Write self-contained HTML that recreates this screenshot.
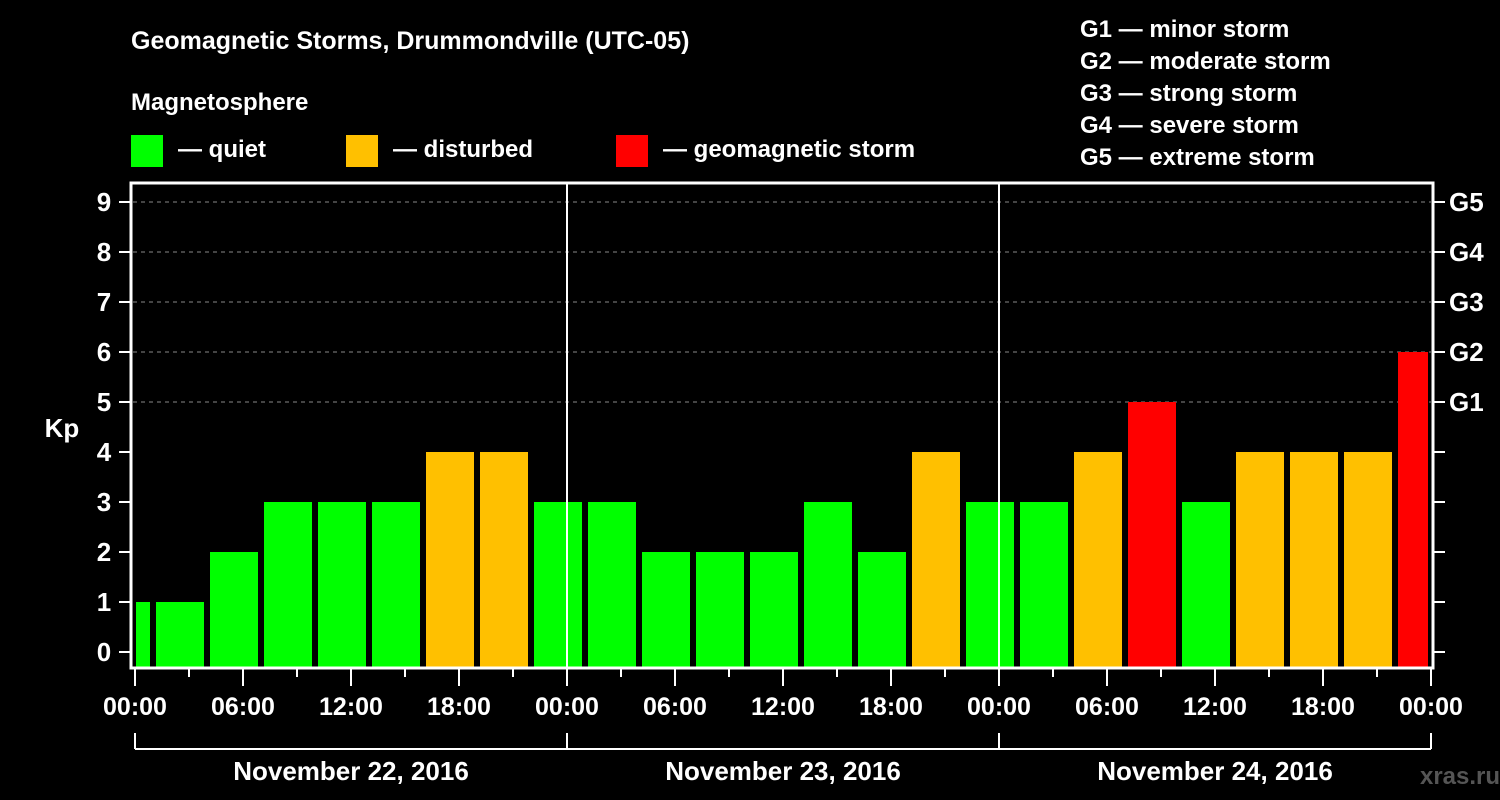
<!DOCTYPE html>
<html><head><meta charset="utf-8"><style>
html,body{margin:0;padding:0;background:#000;}
svg{display:block;font-family:"Liberation Sans",sans-serif;font-weight:bold;}
</style></head><body>
<svg width="1500" height="800" viewBox="0 0 1500 800">
<rect width="1500" height="800" fill="#000"/>
<text x="131" y="49" fill="#fff" font-size="25">Geomagnetic Storms, Drummondville (UTC-05)</text>
<text x="131" y="110" fill="#fff" font-size="24">Magnetosphere</text>
<g><rect x="131" y="135" width="32" height="32" fill="#00ff00"/><text x="178" y="157" fill="#fff" font-size="24">— quiet</text></g>
<g><rect x="346" y="135" width="32" height="32" fill="#ffc000"/><text x="393" y="157" fill="#fff" font-size="24">— disturbed</text></g>
<g><rect x="616" y="135" width="32" height="32" fill="#ff0000"/><text x="663" y="157" fill="#fff" font-size="24">— geomagnetic storm</text></g>
<g fill="#fff" font-size="24">
<text x="1080" y="37">G1 — minor storm</text>
<text x="1080" y="69">G2 — moderate storm</text>
<text x="1080" y="101">G3 — strong storm</text>
<text x="1080" y="133">G4 — severe storm</text>
<text x="1080" y="165">G5 — extreme storm</text>
</g>
<text x="62" y="437" fill="#fff" font-size="26" text-anchor="middle">Kp</text>
<text x="1460" y="784" fill="#555" font-size="24" text-anchor="middle">xras.ru</text>
<g id="grid"></g>
<g id="bars"></g>
<g id="axes"></g>
</svg>
<script>
const kpValues = [1,1,2,3,3,3,4,4,3,3,2,2,2,3,2,4,3,3,4,5,3,4,4,4,6];
const firstSlotHour = -2;
const slotHours = 3;
const dayLabels = ["November 22, 2016","November 23, 2016","November 24, 2016"];
const xTickLabels = ["00:00","06:00","12:00","18:00","00:00","06:00","12:00","18:00","00:00","06:00","12:00","18:00","00:00"];
const gLabels = ["G1","G2","G3","G4","G5"];

const NS="http://www.w3.org/2000/svg";
const L=131,R=1433,T=183,B=668;
const x0=135,pxH=18;
const xs=h=>x0+h*pxH;
const ys=v=>652-v*50;
function mk(tag,attrs,parent,text){const e=document.createElementNS(NS,tag);for(const k in attrs)e.setAttribute(k,attrs[k]);if(text!=null)e.textContent=text;parent.appendChild(e);return e;}
const grid=document.getElementById('grid'),bars=document.getElementById('bars'),axes=document.getElementById('axes');

for(let v=5;v<=9;v++){
  const l=mk('line',{x1:L+2,x2:R-2,y1:ys(v),y2:ys(v),stroke:'#888','stroke-dasharray':'4,4','stroke-width':1},grid);
  
  
}
kpValues.forEach((v,i)=>{
  let a=xs(firstSlotHour+i*slotHours)+3, b=xs(firstSlotHour+(i+1)*slotHours)-3;
  a=Math.max(a,L+5); b=Math.min(b,R-5);
  const c=v>=5?'#ff0000':(v>=4?'#ffc000':'#00ff00');
  const r=mk('rect',{x:a,y:ys(v),width:b-a,height:B-ys(v),fill:c},bars);
  
  
});
for(let d=1;d<3;d++){
  const l=mk('line',{x1:xs(d*24),x2:xs(d*24),y1:T,y2:B,stroke:'#fff','stroke-width':2},axes);
  
  
}
const fr=mk('rect',{x:L,y:T,width:R-L,height:B-T,fill:'none',stroke:'#fff','stroke-width':3},axes);


for(let v=0;v<=9;v++){
  mk('line',{x1:L-12,x2:L,y1:ys(v),y2:ys(v),stroke:'#fff','stroke-width':2},axes);
  mk('line',{x1:R,x2:R+12,y1:ys(v),y2:ys(v),stroke:'#fff','stroke-width':2},axes);
  const t=mk('text',{x:104,y:ys(v)+9,fill:'#fff','font-size':26,'text-anchor':'middle'},axes,String(v));
  
  
}
gLabels.forEach((g,i)=>{
  const t=mk('text',{x:1449,y:ys(5+i)+9,fill:'#fff','font-size':26},axes,g);
  
  
});
for(let h=0;h<=72;h+=3){
  const major=h%6===0;
  mk('line',{x1:xs(h),x2:xs(h),y1:B,y2:major?686:677,stroke:'#fff','stroke-width':2},axes);
}
xTickLabels.forEach((s,i)=>{
  const t=mk('text',{x:xs(i*6),y:715,fill:'#fff','font-size':25,'text-anchor':'middle'},axes,s);
  
  
});
mk('line',{x1:xs(0),x2:xs(72),y1:749,y2:749,stroke:'#fff','stroke-width':2},axes);
for(let d=0;d<=3;d++) mk('line',{x1:xs(d*24),x2:xs(d*24),y1:733,y2:749,stroke:'#fff','stroke-width':2},axes);
dayLabels.forEach((s,i)=>{
  const t=mk('text',{x:xs(i*24+12),y:780,fill:'#fff','font-size':26,'text-anchor':'middle'},axes,s);
  
  
});
</script>
</body></html>
